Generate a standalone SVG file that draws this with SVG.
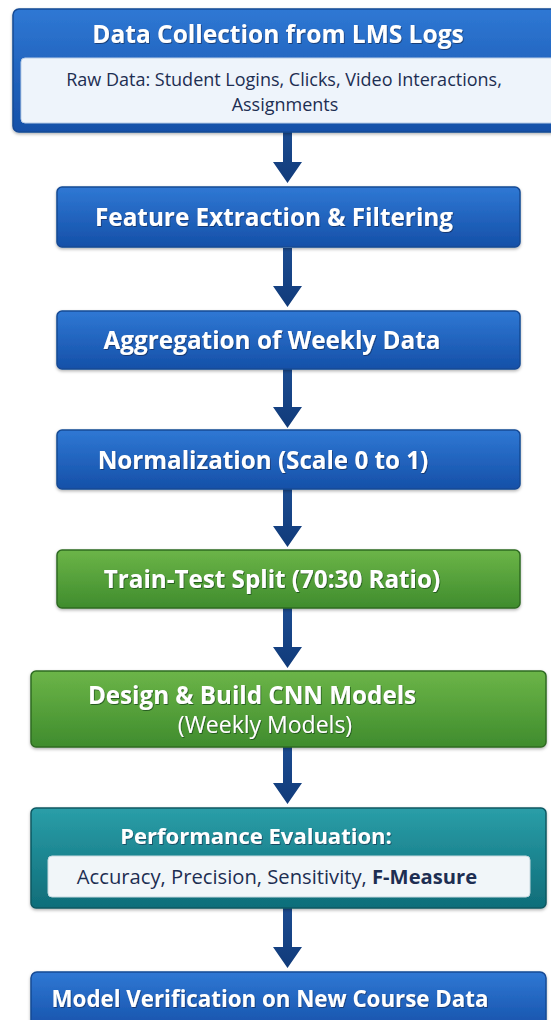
<svg xmlns="http://www.w3.org/2000/svg" width="551" height="1020" viewBox="0 0 551 1020">
<defs>
<linearGradient id="gBlue" x1="0" y1="0" x2="0" y2="1">
<stop offset="0" stop-color="#2f78d4"/><stop offset="1" stop-color="#1550a8"/>
</linearGradient>
<linearGradient id="gGreen" x1="0" y1="0" x2="0" y2="1">
<stop offset="0" stop-color="#6cb548"/><stop offset="1" stop-color="#3f8c2d"/>
</linearGradient>
<linearGradient id="gTeal" x1="0" y1="0" x2="0" y2="1">
<stop offset="0" stop-color="#2a9ea8"/><stop offset="1" stop-color="#0f6d79"/>
</linearGradient>
<linearGradient id="gArrow" x1="0" y1="0" x2="0" y2="1">
<stop offset="0" stop-color="#1b4b90"/><stop offset="1" stop-color="#113b7a"/>
</linearGradient>
<filter id="sh" x="-5%" y="-10%" width="110%" height="130%">
<feDropShadow dx="0" dy="1.5" stdDeviation="1.5" flood-color="#000" flood-opacity="0.3"/>
</filter>
<filter id="ts" x="-5%" y="-20%" width="110%" height="150%">
<feDropShadow dx="0.8" dy="1" stdDeviation="0.6" flood-color="#0a2040" flood-opacity="0.6"/>
</filter>
<filter id="tsg" x="-5%" y="-20%" width="110%" height="150%">
<feDropShadow dx="0.8" dy="1" stdDeviation="0.6" flood-color="#1d4a12" flood-opacity="0.8"/>
</filter>
</defs>
<style>
.blue{fill:url(#gBlue);stroke:#164a94;stroke-width:1.5}
.green{fill:url(#gGreen);stroke:#2f6b22;stroke-width:1.5}
.teal{fill:url(#gTeal);stroke:#0c5862;stroke-width:1.5}
.inner{fill:#eef4fb;stroke:#b9cde6;stroke-width:1}
.inner2{fill:#f1f6f9;stroke:#c5d8de;stroke-width:1}
.t{font-family:"Open Sans","DejaVu Sans",sans-serif;font-weight:700;fill:#ffffff;text-anchor:middle}
.tn{font-family:"Open Sans","DejaVu Sans",sans-serif;font-weight:400;fill:#ffffff;text-anchor:middle}
.d{font-family:"Open Sans","DejaVu Sans",sans-serif;font-weight:400;fill:#1d2e52;text-anchor:middle}
.arrow{fill:url(#gArrow)}
</style>

<g id="connectors">
<path class="arrow" d="M283,132 H292 V162 H302 L287.5,183 L273,162 H283 Z"/>
<path class="arrow" d="M283,248 H292 V286 H302 L287.5,307 L273,286 H283 Z"/>
<path class="arrow" d="M283,369 H292 V407 H302 L287.5,428 L273,407 H283 Z"/>
<path class="arrow" d="M283,489 H292 V526 H302 L287.5,547 L273,526 H283 Z"/>
<path class="arrow" d="M283,608 H292 V647 H302 L287.5,668 L273,647 H283 Z"/>
<path class="arrow" d="M283,747 H292 V783 H302 L287.5,804 L273,783 H283 Z"/>
<path class="arrow" d="M283,908 H292 V947 H302 L287.5,968 L273,947 H283 Z"/>
</g>

<g id="n1">
<rect class="blue" x="13" y="9" width="550" height="123" rx="6" filter="url(#sh)"/>
<rect class="inner" x="21" y="58" width="540" height="65" rx="4"/>
<text class="t" x="278" y="43" font-size="24.5" filter="url(#ts)">Data Collection from LMS Logs</text>
<text class="d" x="284" y="86" font-size="18">Raw Data: Student Logins, Clicks, Video Interactions,</text>
<text class="d" x="285" y="111" font-size="18">Assignments</text>
</g>

<g id="n2">
<rect class="blue" x="57" y="187" width="463" height="60" rx="5" filter="url(#sh)"/>
<text class="t" x="274" y="226" font-size="24.3" filter="url(#ts)">Feature Extraction &amp; Filtering</text>
</g>

<g id="n3">
<rect class="blue" x="57" y="311" width="463" height="58" rx="5" filter="url(#sh)"/>
<text class="t" x="272" y="349" font-size="24.3" filter="url(#ts)">Aggregation of Weekly Data</text>
</g>

<g id="n4">
<rect class="blue" x="57" y="430" width="463" height="59" rx="5" filter="url(#sh)"/>
<text class="t" x="263" y="469" font-size="24.2" filter="url(#ts)">Normalization (Scale 0 to 1)</text>
</g>

<g id="n5">
<rect class="green" x="57" y="550" width="463" height="58" rx="5" filter="url(#sh)"/>
<text class="t" x="272" y="588" font-size="24.2" filter="url(#tsg)">Train-Test Split (70:30 Ratio)</text>
</g>

<g id="n6">
<rect class="green" x="31" y="671" width="515" height="76" rx="5" filter="url(#sh)"/>
<text class="t" x="252" y="704" font-size="24.2" filter="url(#tsg)">Design &amp; Build CNN Models</text>
<text class="tn" x="265" y="733" font-size="23" filter="url(#tsg)">(Weekly Models)</text>
</g>

<g id="n7">
<rect class="teal" x="31" y="808" width="515" height="100" rx="5" filter="url(#sh)"/>
<rect class="inner2" x="48" y="856" width="482" height="41" rx="4"/>
<text class="t" x="256" y="844" font-size="22" filter="url(#ts)">Performance Evaluation:</text>
<text class="d" x="277" y="884" font-size="20.2">Accuracy, Precision, Sensitivity, <tspan font-weight="700">F-Measure</tspan></text>
</g>

<g id="n8">
<rect class="blue" x="31" y="972" width="515" height="60" rx="6" filter="url(#sh)"/>
<text class="t" x="270" y="1007" font-size="22.3" filter="url(#ts)">Model Verification on New Course Data</text>
</g>
</svg>
